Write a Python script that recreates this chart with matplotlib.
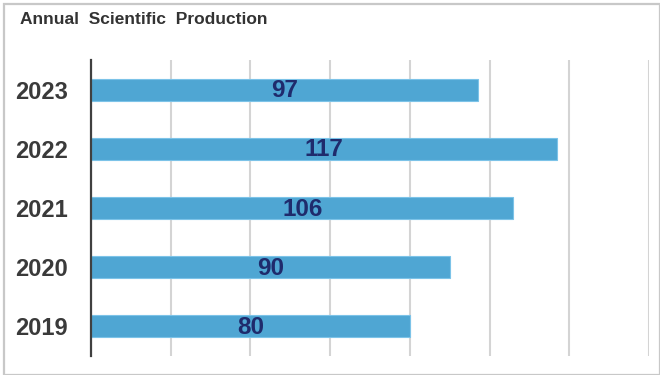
import numpy as np
import matplotlib.pyplot as plt
from matplotlib.patches import Rectangle

years = ['2019', '2020', '2021', '2022', '2023']
articles = [80, 90, 106, 117, 97]
xticks = [0, 20, 40, 60, 80, 100, 120, 140]

W, H = 660, 375
fig = plt.figure(figsize=(W / 100, H / 100), dpi=100)
plt.rcParams['font.family'] = ['Liberation Sans', 'DejaVu Sans']

# cadre gris autour de la figure
fig.patches.append(Rectangle((4 / W, 0.5 / H), (W - 4.5) / W, (H - 4.5) / H,
                             transform=fig.transFigure, fill=False,
                             edgecolor='#c8c8c8', lw=1.6))

ax = fig.add_axes([91 / W, (H - 356) / H, (649 - 91) / W, (356 - 60) / H])
pos = np.arange(len(years))
ax.barh(pos, articles, height=0.37, color='#4fa6d3', edgecolor='#7cc3e8', lw=0.8, zorder=3)

for p, v in zip(pos, articles):
    ax.text(v / 2, p - 0.02, str(v), ha='center', va='center', fontsize=17.5,
            fontweight='bold', color='#1f2b6c', zorder=4)

ax.set_xlim(0, 140)
ax.set_ylim(-0.5, 4.5)
ax.set_xticks(xticks)
ax.set_xticklabels([])
ax.set_yticks(pos)
ax.set_yticklabels(years, fontsize=17, fontweight='bold', color='#3a3a3a')
ax.tick_params(axis='both', length=0)
ax.tick_params(axis='y', pad=16.5)
ax.grid(axis='x', color='#d4d4d4', lw=1.5, zorder=0)
for s in ['top', 'right', 'bottom']:
    ax.spines[s].set_visible(False)
ax.spines['left'].set_color('#404040')
ax.spines['left'].set_linewidth(1.6)
ax.spines['left'].set_zorder(5)

fig.text(20 / W, 1 - 20 / H, 'Annual  Scientific  Production', ha='left', va='center',
         fontsize=12.5, fontweight='bold', color='#333333')

fig.savefig('out.png', dpi=100)
